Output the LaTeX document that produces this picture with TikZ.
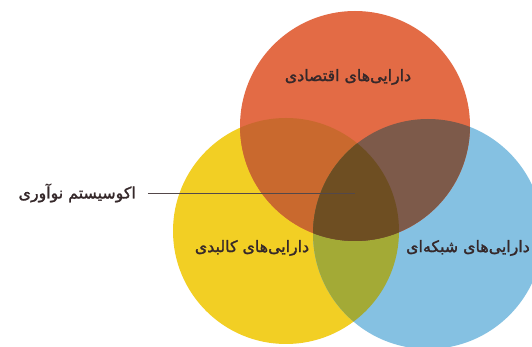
\documentclass[tikz,border=0pt]{standalone}
\usepackage{fontspec}
\newfontfamily\arabicfont[Script=Arabic,FakeBold=1.6]{DejaVu Sans}
\TeXXeTstate=1
\definecolor{assetRed}{HTML}{E36B45}
\definecolor{assetYellow}{HTML}{F2CF24}
\definecolor{assetBlue}{HTML}{85C1E2}
\definecolor{redYellow}{HTML}{C9692E}
\definecolor{redBlue}{HTML}{7D5A4A}
\definecolor{yellowBlue}{HTML}{A3AA36}
\definecolor{allThree}{HTML}{6E4E22}
\definecolor{labelText}{HTML}{35282A}
\def\yellowset{(286,231) circle (113)}
\def\blueset{(428,234) circle (115)}
\def\redset{(355,126) circle (115)}

\begin{document}
\begin{tikzpicture}[x=0.03cm,y=-0.03cm,
                    assetlabel/.style={font=\arabicfont\fontsize{13.5}{15}\selectfont,text=labelText,inner sep=0pt}]
                      \useasboundingbox (0,0) rectangle (532,347);
                      \clip (0,0) rectangle (532,347);
                      \fill[white] (0,0) rectangle (532,347);
                      \fill[assetYellow] \yellowset;
                      \fill[assetBlue] \blueset;
                      \fill[assetRed] \redset;
                      % overlaps
                      \begin{scope}
                        \clip \yellowset;
                        \fill[redYellow] \redset;
                        \fill[yellowBlue] \blueset;
                        \clip \blueset;
                        \fill[allThree] \redset;
                      \end{scope}
                      \begin{scope}
                        \clip \blueset;
                        \clip \redset;
                        \fill[redBlue] (0,0) rectangle (532,347);
                        \fill[allThree] \yellowset;
                      \end{scope}
                      \node[assetlabel](econ)at(348,77){\beginR دارایی‌های اقتصادی\endR};
                      \node[assetlabel](phys)at(252,248){\beginR دارایی‌های کالبدی\endR};
                      \node[assetlabel,anchor=east](netw)at(530,248){\beginR دارایی‌های شبکه‌ای\endR};
                      \node[assetlabel,anchor=east](eco)at(136,193){\beginR اکوسیستم نوآوری\endR};
                      \coordinate (core) at (355,193);
                      \draw[labelText!85,line width=0.6pt,shorten <=17\pgflinewidth] (eco.east) -- (core);
                  \end{tikzpicture}
\end{document}
